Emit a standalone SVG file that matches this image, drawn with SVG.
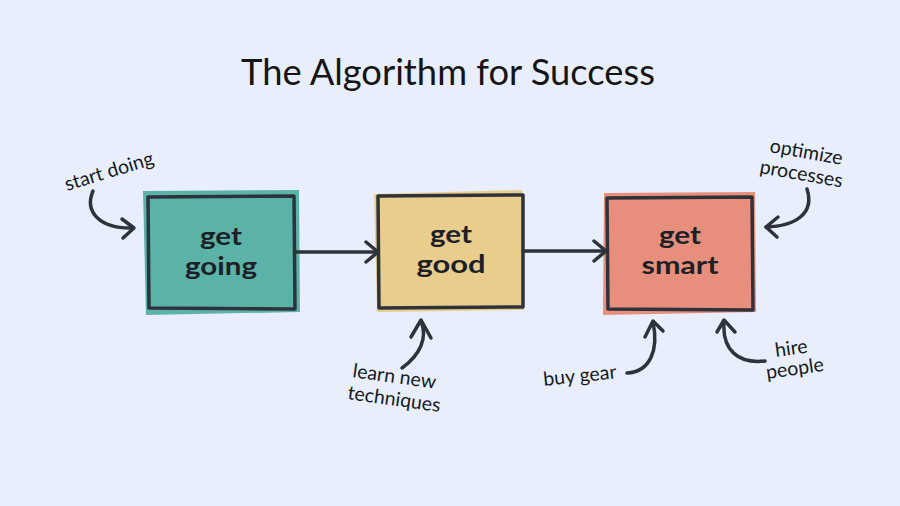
<svg xmlns="http://www.w3.org/2000/svg" width="900" height="506" viewBox="0 0 900 506">
<style>
.bg{fill:#e9eefc}
.title{font-family:Lato,"Open Sans",sans-serif;font-size:36px;fill:#151515}
.lbl{font-family:Lato,"Open Sans",sans-serif;font-size:25px;font-weight:bold;fill:#1c2127;text-anchor:middle}
.small{font-family:Lato,"Open Sans",sans-serif;font-size:19.5px;fill:#151a1f}
.border{fill:none;stroke:#2e333b;stroke-width:3.5;stroke-linejoin:round}
.conn{fill:none;stroke:#2e333b;stroke-width:3.5;stroke-linecap:round;stroke-linejoin:round}
</style>
<rect class="bg" x="0" y="0" width="900" height="506"/>
<text class="title" x="448" y="85" text-anchor="middle" textLength="414" lengthAdjust="spacingAndGlyphs">The Algorithm for Success</text>

<g id="node-get-going">
<path d="M143,191 L299,190 L300,312 L146,315 Z" fill="#5bb3a8"/>
<path class="border" d="M148,197 L294,196 L295,309 L149,308 Z"/>
<text class="lbl" x="221" y="245" textLength="42" lengthAdjust="spacingAndGlyphs">get</text>
<text class="lbl" x="221" y="275" textLength="72" lengthAdjust="spacingAndGlyphs">going</text>
</g>

<g id="node-get-good">
<path d="M374,194 L522,190 L524,310 L377,312 Z" fill="#e9cd8c"/>
<path class="border" d="M378,196 L523,195 L523,307 L379,308 Z"/>
<text class="lbl" x="451" y="243" textLength="42" lengthAdjust="spacingAndGlyphs">get</text>
<text class="lbl" x="451" y="273" textLength="69" lengthAdjust="spacingAndGlyphs">good</text>
</g>

<g id="node-get-smart">
<path d="M604,193 L755,192 L756,312 L603,315 Z" fill="#e88e7d"/>
<path class="border" d="M607,198 L752,197 L753,310 L608,309 Z"/>
<text class="lbl" x="680" y="244" textLength="42" lengthAdjust="spacingAndGlyphs">get</text>
<text class="lbl" x="680" y="274" textLength="77" lengthAdjust="spacingAndGlyphs">smart</text>
</g>

<g id="labels">
<text class="small" transform="translate(67,191) rotate(-17)">start doing</text>
<text class="small" transform="translate(769,152) rotate(10)">optimize</text>
<text class="small" transform="translate(759,173) rotate(10)">processes</text>
<text class="small" transform="translate(352,377) rotate(8)">learn new</text>
<text class="small" transform="translate(347,399) rotate(8)">techniques</text>
<text class="small" transform="translate(544,386) rotate(-6)">buy gear</text>
<text class="small" transform="translate(776,357) rotate(-8)">hire</text>
<text class="small" transform="translate(767,379) rotate(-8)">people</text>
</g>

<g id="connectors">
<path class="conn" d="M295,252 L377,252"/>
<path class="conn" d="M366,242 L378,252 L366,262"/>
<path class="conn" d="M523,251 L605,251"/>
<path class="conn" d="M594,241 L606,251 L594,261"/>
<path class="conn" d="M93,191 C84,212 100,229 133,228"/>
<path class="conn" d="M122,219 L134,228 L123,238"/>
<path class="conn" d="M807,189 C815,214 795,226 766,227"/>
<path class="conn" d="M778,217 L766,227 L777,237"/>
<path class="conn" d="M402,368 C420,355 428,338 421,321"/>
<path class="conn" d="M411,337 L421,320 L431,338"/>
<path class="conn" d="M627,373 C650,372 659,350 653,322"/>
<path class="conn" d="M645,337 L653,321 L663,331"/>
<path class="conn" d="M765,361 C738,364 722,350 724,322"/>
<path class="conn" d="M717,332 L724,320 L735,332"/>
</g>
</svg>
